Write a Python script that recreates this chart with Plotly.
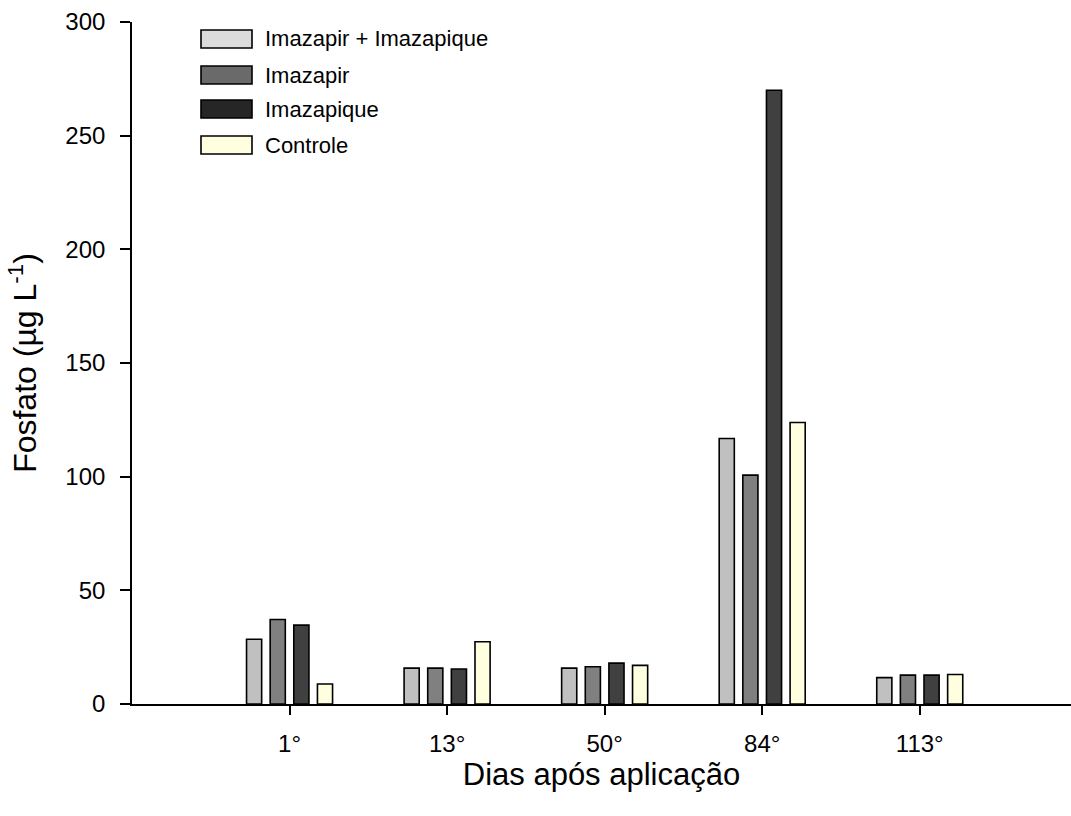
import plotly.graph_objects as go

# Days after herbicide application and phosphate concentration (µg L-1)
dias = ["1°", "13°", "50°", "84°", "113°"]
imazapir_imazapique = [28.5, 15.8, 15.8, 116.8, 11.6]
imazapir = [37.2, 15.8, 16.4, 100.7, 12.7]
imazapique = [34.7, 15.4, 18.0, 270.0, 12.7]
controle = [8.8, 27.4, 17.0, 123.8, 13.0]

series = [
    ("Imazapir + Imazapique", imazapir_imazapique, "#c0c0c0", "#dcdcdc"),
    ("Imazapir", imazapir, "#808080", "#6a6a6a"),
    ("Imazapique", imazapique, "#404040", "#262626"),
    ("Controle", controle, "#ffffe0", "#ffffe0"),
]

pos = list(range(1, len(dias) + 1))

fig = go.Figure()
for name, vals, color, _ in series:
    fig.add_trace(go.Bar(
        x=pos, y=vals, name=name,
        marker=dict(color=color, line=dict(color="#000000", width=1.6)),
        showlegend=False,
    ))

# Legend drawn as paper-anchored swatches with labels
W, H = 1071, 816
ml, mr, mt, mb = 132, 0, 22, 112
pw, ph = W - ml - mr, H - mt - mb

def px_to_paper(x, y):
    return (x - ml) / pw, 1 - (y - mt) / ph

NARROW = "Liberation Sans Narrow, Arial Narrow, Liberation Sans, Arial"

shapes = []
annotations = []
row_y = [39, 75, 109, 145]
for (name, _, _, lcolor), cy in zip(series, row_y):
    x0, y0 = px_to_paper(201, cy - 9)
    x1, y1 = px_to_paper(252, cy + 9)
    shapes.append(dict(type="rect", xref="paper", yref="paper",
                       x0=x0, x1=x1, y0=y1, y1=y0,
                       fillcolor=lcolor, line=dict(color="#000000", width=1.6)))
    tx, ty = px_to_paper(265, cy)
    annotations.append(dict(xref="paper", yref="paper", x=tx, y=ty,
                            text=name, showarrow=False, xanchor="left",
                            yanchor="middle", xshift=-2,
                            font=dict(family=NARROW, size=22, color="#000000")))

fig.update_layout(
    width=W, height=H,
    margin=dict(l=ml, r=mr, t=mt, b=mb),
    paper_bgcolor="white", plot_bgcolor="white",
    barmode="group", bargap=0.40, bargroupgap=0.36,
    shapes=shapes, annotations=annotations,
    font=dict(family="Liberation Sans, Arial", color="#000000"),
)

fig.update_xaxes(
    range=[0, 5.96], tickvals=pos, ticktext=dias,
    showline=True, linecolor="#000000", linewidth=1.6,
    ticks="outside", ticklen=9, tickwidth=1.6, tickcolor="#000000",
    showgrid=False, zeroline=False,
    tickfont=dict(size=24), ticklabelstandoff=8,
    title=dict(text="Dias após aplicação", font=dict(size=31), standoff=8),
)
fig.update_yaxes(
    range=[0, 300], tickvals=[0, 50, 100, 150, 200, 250, 300],
    showline=True, linecolor="#000000", linewidth=1.6,
    ticks="outside", ticklen=10, tickwidth=1.6, tickcolor="#000000",
    showgrid=False, zeroline=False,
    tickfont=dict(size=24), ticklabelstandoff=10,
    title=dict(text="Fosfato (µg L<sup>-1</sup>)",
               font=dict(family=NARROW, size=32),
               standoff=19),
)

fig.write_html("out.html")
